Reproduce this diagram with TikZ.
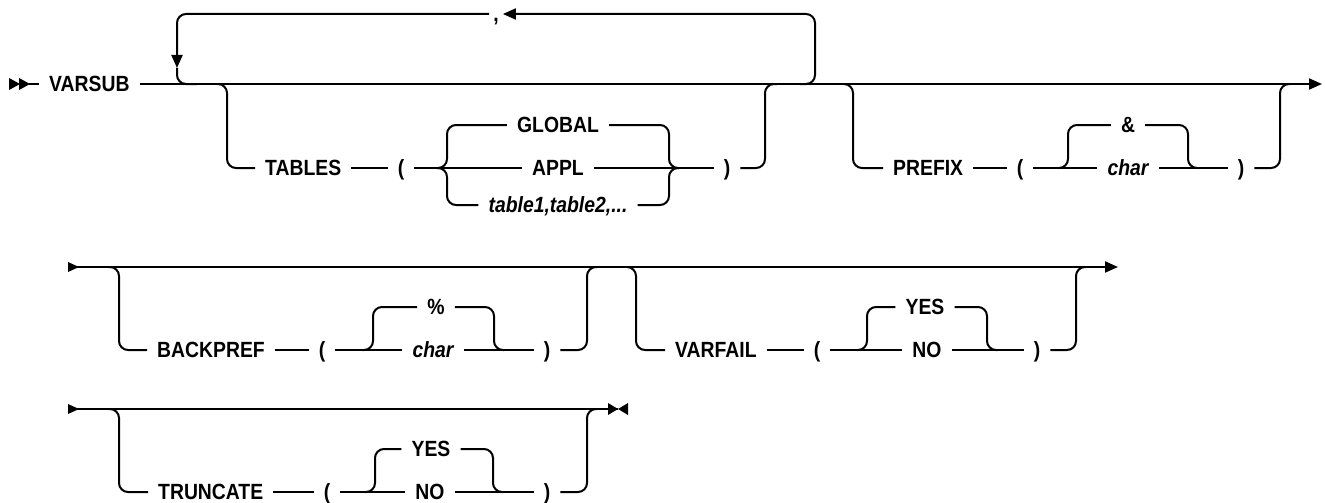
\documentclass[tikz,border=0pt]{standalone}
\usepackage{fontspec}
\setmainfont{Liberation Sans}[FakeStretch=0.88]
\usetikzlibrary{arrows.meta}
\newcommand\rrfont{\fontsize{22}{26}\selectfont\bfseries}
\begin{document}
\begin{tikzpicture}[x=1pt,y=-1pt,
 rail/.style={line width=2pt,rounded corners=9pt},
 kw/.style={font=\rrfont,inner xsep=10pt,inner ysep=0pt,text height=15.7pt,text depth=0pt},
 var/.style={kw,font=\rrfont\itshape},
 tip/.style={-{Triangle[length=13pt,width=11pt]}}]
 \useasboundingbox (0,0) rectangle (1325,503);
 \coordinate (start) at (9,84);
 \coordinate (end1) at (1322,84);
 \node[kw,anchor=west] (varsub) at (39,84) {VARSUB};
 \fill (start) ++(0,-6) -- ++(11,6) -- ++(-11,6) -- cycle;
 \fill (start) ++(10,-6) -- ++(11,6) -- ++(-11,6) -- cycle;
 \draw[rail] (start) ++(20,0) -- (varsub.west);
 \draw[rail,tip] (varsub.east) -- (end1);
 \coordinate (loopin) at (800,84);
 \coordinate (loopR) at (815,14);
 \coordinate (loopdn) at (177,68);
 \coordinate (loopout) at (197,84);
 \node[kw,inner xsep=4pt] (comma) at (496,14) {,};
 \draw[rail,tip] (loopin) -| (loopR) -- (comma.east |- loopR);
 \draw[rail,tip] (comma.west |- loopR) -| (loopdn);
 \draw[rail] (loopdn) |- (loopout);
 \coordinate (tabin) at (217,84);
 \coordinate (tsplit) at (437,168);
 \coordinate (tjoin) at (679,168);
 \coordinate (tabout) at (777,84);
 \node[kw,anchor=west] (tables) at (255,168) {TABLES};
 \node[kw] (tlp) at (401,168) {(};
 \node[kw] (global) at (558,125) {GLOBAL};
 \node[kw] (appl) at (558,168) {APPL};
 \node[var] (tlist) at (558,205) {table1,table2,...};
 \node[kw] (trp) at (727,168) {)};
 \draw[rail] (tabin) -| ([xshift=-28pt]tables.west) -- (tables.west);
 \draw[rail] (tables.east) -- (tlp.west);
 \draw[rail] (tlp.east) -- (appl.west);
 \draw[rail] (tsplit) -- ++(10,0) |- (global.west);
 \draw[rail] (tsplit) -- ++(10,0) |- (tlist.west);
 \draw[rail] (global.east) -| ([xshift=-10pt]tjoin) -- (tjoin);
 \draw[rail] (tlist.east) -| ([xshift=-10pt]tjoin) -- (tjoin);
 \draw[rail] (appl.east) -- (trp.west);
 \draw[rail] (trp.east) -| ([xshift=-12pt]tabout) -- (tabout);
 \coordinate (prein) at (845,84);
 \coordinate (psplit) at (1058,168);
 \coordinate (pjoin) at (1198,168);
 \coordinate (pout) at (1290,84);
 \node[kw,anchor=west] (prefix) at (883,168) {PREFIX};
 \node[kw] (plp) at (1020,168) {(};
 \node[kw] (amp) at (1128,125) {\&};
 \node[var] (pchar) at (1128,168) {char};
 \node[kw] (prp) at (1241,168) {)};
 \draw[rail] (prein) -| ([xshift=-30pt]prefix.west) -- (prefix.west);
 \draw[rail] (prefix.east) -- (plp.west);
 \draw[rail] (plp.east) -- (pchar.west);
 \draw[rail] (psplit) -- ++(10,0) |- (amp.west);
 \draw[rail] (amp.east) -| ([xshift=-10pt]pjoin) -- (pjoin);
 \draw[rail] (pchar.east) -- (prp.west);
 \draw[rail] (prp.east) -| ([xshift=-10pt]pout) -- (pout);
 \coordinate (start2) at (68,267);
 \coordinate (end2) at (1118,267);
 \fill (start2) ++(0,-5) -- ++(11,5) -- ++(-11,5) -- cycle;
 \draw[rail,tip] (start2) -- (end2);
 \coordinate (bin) at (108,267);
 \coordinate (bsplit) at (363,350);
 \coordinate (bjoin) at (504,350);
 \coordinate (bout) at (597,267);
 \node[kw,anchor=west] (backpref) at (147,350) {BACKPREF};
 \node[kw] (blp) at (322,350) {(};
 \node[kw] (pct) at (436,307) {\%};
 \node[var] (bchar) at (433,350) {char};
 \node[kw] (brp) at (547,350) {)};
 \draw[rail] (bin) -| ([xshift=-28pt]backpref.west) -- (backpref.west);
 \draw[rail] (backpref.east) -- (blp.west);
 \draw[rail] (blp.east) -- (bchar.west);
 \draw[rail] (bsplit) -- ++(10,0) |- (pct.west);
 \draw[rail] (pct.east) -| ([xshift=-10pt]bjoin) -- (bjoin);
 \draw[rail] (bchar.east) -- (brp.west);
 \draw[rail] (brp.east) -| ([xshift=-10pt]bout) -- (bout);
 \coordinate (vin) at (627,267);
 \coordinate (vsplit) at (857,350);
 \coordinate (vjoin) at (997,350);
 \coordinate (vout) at (1086,267);
 \node[kw,anchor=west] (varfail) at (665,350) {VARFAIL};
 \node[kw] (vlp) at (817,350) {(};
 \node[kw] (vyes) at (925,307) {YES};
 \node[kw] (vno) at (927,350) {NO};
 \node[kw] (vrp) at (1037,350) {)};
 \draw[rail] (vin) -| ([xshift=-29pt]varfail.west) -- (varfail.west);
 \draw[rail] (varfail.east) -- (vlp.west);
 \draw[rail] (vlp.east) -- (vno.west);
 \draw[rail] (vsplit) -- ++(10,0) |- (vyes.west);
 \draw[rail] (vyes.east) -| ([xshift=-10pt]vjoin) -- (vjoin);
 \draw[rail] (vno.east) -- (vrp.west);
 \draw[rail] (vrp.east) -| ([xshift=-10pt]vout) -- (vout);
 \coordinate (start3) at (68,409);
 \coordinate (end3) at (618,409);
 \fill (start3) ++(0,-5) -- ++(11,5) -- ++(-11,5) -- cycle;
 \draw[rail] (start3) -- (end3);
 \fill (end3) -- ++(-10,-6) -- ++(0,12) -- cycle;
 \fill (end3) -- ++(10,-6) -- ++(0,12) -- cycle;
 \coordinate (trin) at (108,409);
 \coordinate (trsplit) at (365,492);
 \coordinate (trjoin) at (503,492);
 \coordinate (trout) at (597,409);
 \node[kw,anchor=west] (truncate) at (148,492) {TRUNCATE};
 \node[kw] (trlp) at (327,492) {(};
 \node[kw] (tyes) at (431,449) {YES};
 \node[kw] (tno) at (430,492) {NO};
 \node[kw] (trrp) at (547,492) {)};
 \draw[rail] (trin) -| ([xshift=-29pt]truncate.west) -- (truncate.west);
 \draw[rail] (truncate.east) -- (trlp.west);
 \draw[rail] (trlp.east) -- (tno.west);
 \draw[rail] (trsplit) -- ++(10,0) |- (tyes.west);
 \draw[rail] (tyes.east) -| ([xshift=-10pt]trjoin) -- (trjoin);
 \draw[rail] (tno.east) -- (trrp.west);
 \draw[rail] (trrp.east) -| ([xshift=-10pt]trout) -- (trout);
\end{tikzpicture}
\end{document}
